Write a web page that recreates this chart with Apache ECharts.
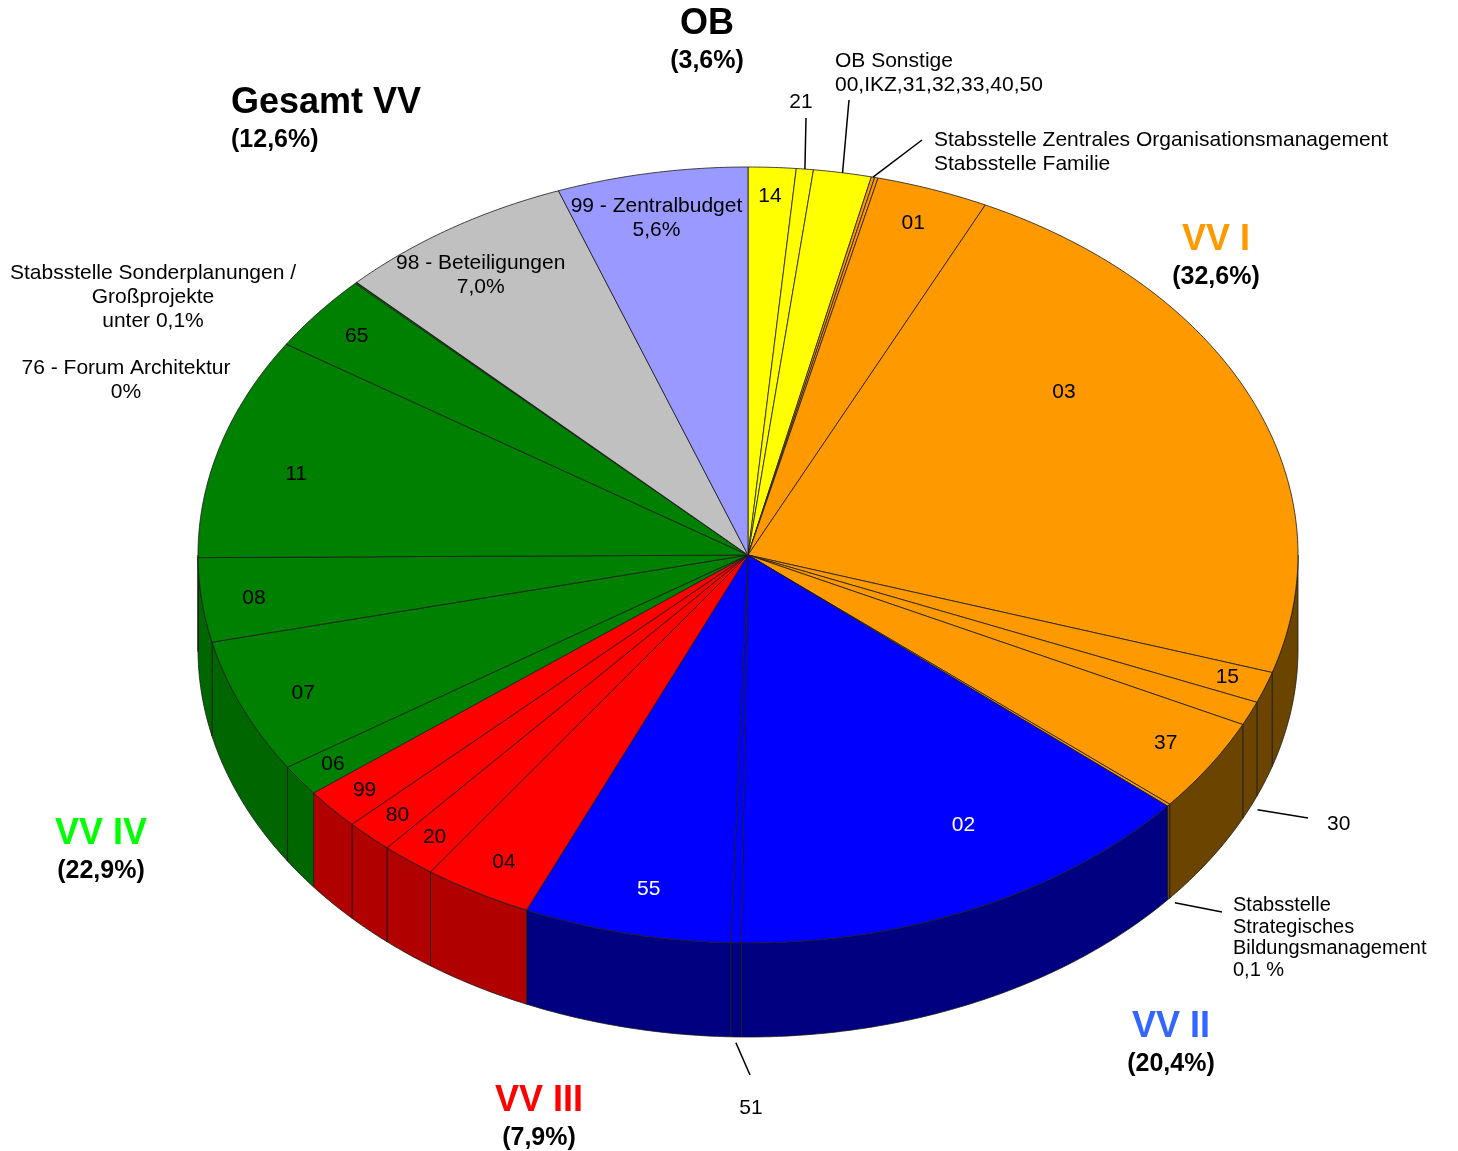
<!DOCTYPE html>
<html>
<head>
<meta charset="utf-8">
<script src="https://cdn.jsdelivr.net/npm/echarts@6/dist/echarts.min.js"></script>
<style>
html,body{margin:0;padding:0;background:#fff}
#main{width:1458px;height:1151px}
</style>
</head>
<body>
<div id="main"></div>
<script>
// Anteile je Bereich in %, im Uhrzeigersinn ab 12 Uhr
var names = ['14', '21', 'OB Sonstige', 'Stabsstelle Zentrales Organisationsmanagement', 'Stabsstelle Familie',
    '01', '03', '15', '30', '37', 'Stabsstelle Strategisches Bildungsmanagement',
    '02', '51', '55',
    '04', '20', '80', '99',
    '06', '07', '08', '11', '65', 'Stabsstelle Sonderplanungen / Großprojekte', '76 - Forum Architektur',
    '98 - Beteiligungen', '99 - Zentralbudget'];
var values = [1.4, 0.5, 1.7, 0.1, 0.1,
    3.3, 22.8, 1.3, 1.0, 3.9, 0.1,
    14.0, 0.3, 6.1,
    3.2, 1.6, 1.4, 1.7,
    1.3, 5.6, 3.5, 9.25, 3.2, 0.05, 0.01,
    7.0, 5.6];
var groups = ['OB', 'OB', 'OB', 'VV I', 'VV I',
    'VV I', 'VV I', 'VV I', 'VV I', 'VV I', 'VV I',
    'VV II', 'VV II', 'VV II',
    'VV III', 'VV III', 'VV III', 'VV III',
    'VV IV', 'VV IV', 'VV IV', 'VV IV', 'VV IV', 'VV IV', 'VV IV',
    'Gesamt VV', 'Gesamt VV'];
// Beschriftung im Segment ('' = außen beschriftet)
var labels = ['14', '', '', '', '',
    '01', '03', '15', '', '37', '',
    '02', '', '55',
    '04', '20', '80', '99',
    '06', '07', '08', '11', '65', '', '',
    '98 - Beteiligungen\n7,0%', '99 - Zentralbudget\n5,6%'];

var groupColors = {'OB': '#FFFF00', 'VV I': '#FF9900', 'VV II': '#0000FF', 'VV III': '#FF0000', 'VV IV': '#008000'};
var sideColors = {'OB': '#8c8c00', 'VV I': '#6B4400', 'VV II': '#000080', 'VV III': '#B00000', 'VV IV': '#006600', 'Gesamt VV': '#707070'};
var specialColors = {'98 - Beteiligungen': '#C0C0C0', '99 - Zentralbudget': '#9999FF'};
var whiteText = {'02': true, '55': true};

var FONT = "'Liberation Sans', Arial, sans-serif";
var CX = 748, CY = 555, RX = 550, RY = 388, DEPTH = 94;

var total = values.reduce(function (s, v) { return s + v; }, 0);
var starts = [], ends = [];
var acc = 0;
for (var i = 0; i < values.length; i++) {
    starts.push(acc / total * 360);
    acc += values[i];
    ends.push(acc / total * 360);
}
function sliceColor(i) {
    return specialColors[names[i]] || groupColors[groups[i]];
}
function pt(t, k, dy) {
    var r = t * Math.PI / 180;
    return [CX + RX * k * Math.sin(r), CY - RY * k * Math.cos(r) + (dy || 0)];
}
function arc(a, b, k, dy) {
    var pts = [];
    var n = Math.max(2, Math.ceil((b - a) / 0.5));
    for (var j = 0; j <= n; j++) pts.push(pt(a + (b - a) * j / n, k, dy));
    return pts;
}
function share(g) {
    var s = 0;
    for (var j = 0; j < values.length; j++) if (groups[j] === g) s += values[j];
    return '(' + s.toFixed(1).replace('.', ',') + '%)';
}

function renderSide(params, api) {
    var i = params.dataIndex;
    var a = Math.max(starts[i], 90), b = Math.min(ends[i], 270);
    if (a >= b) return null;
    var pts = arc(a, b, 1, 0).concat(arc(a, b, 1, DEPTH).reverse());
    return {
        type: 'polygon',
        shape: {points: pts},
        style: {fill: sideColors[groups[i]], stroke: '#1a1a1a', lineWidth: 0.8}
    };
}

function renderTop(params, api) {
    var i = params.dataIndex;
    var a = starts[i], b = ends[i];
    var children = [{
        type: 'polygon',
        shape: {points: [[CX, CY]].concat(arc(a, b, 1, 0))},
        style: {fill: sliceColor(i), stroke: '#1a1a1a', lineWidth: 0.8}
    }];
    if (labels[i]) {
        var span = b - a;
        var k = Math.min(0.93, 0.94 - 0.01 * values[i]);
        var ang = (a + b) / 2 - 0.0019 * span * span;
        var p = pt(ang, k, 0);
        children.push({
            type: 'text', x: p[0], y: p[1], z2: 100,
            style: {
                text: labels[i], fill: whiteText[labels[i]] ? '#fff' : '#000',
                font: '21px ' + FONT, align: 'center', verticalAlign: 'middle', lineHeight: 24
            }
        });
    }
    return {type: 'group', children: children};
}

// Gruppentitel
var titles = [
    {g: 'OB', x: 707, y: 24, color: '#000', align: 'center'},
    {g: 'Gesamt VV', x: 231, y: 103, color: '#000', align: 'left'},
    {g: 'VV I', x: 1216, y: 240, color: '#FF9900', align: 'center'},
    {g: 'VV II', x: 1171, y: 1027, color: '#3366FF', align: 'center'},
    {g: 'VV III', x: 539, y: 1101, color: '#FF0000', align: 'center'},
    {g: 'VV IV', x: 101, y: 834, color: '#00FF00', align: 'center'}
];
// Außenbeschriftungen mit Führungslinie
var callouts = [
    {slice: '21', text: '21', x: 801, y: 102, align: 'center', lineEnd: [806, 118], rim: 'top'},
    {slice: 'OB Sonstige', text: 'OB Sonstige\n00,IKZ,31,32,33,40,50', x: 835, y: 73, align: 'left', lineEnd: [849, 100], rim: 'top'},
    {slice: 'Stabsstelle Zentrales Organisationsmanagement', text: 'Stabsstelle Zentrales Organisationsmanagement\nStabsstelle Familie', x: 934, y: 152, align: 'left', lineEnd: [922, 140], rim: 'top'},
    {slice: '30', text: '30', x: 1327, y: 824, align: 'left', lineEnd: [1308, 818], rim: 'bottom'},
    {slice: 'Stabsstelle Strategisches Bildungsmanagement', text: 'Stabsstelle\nStrategisches\nBildungsmanagement\n0,1 %', x: 1233, y: 938, align: 'left', lineEnd: [1222, 912], rim: 'bottom', size: 20, lh: 21.7},
    {slice: '51', text: '51', x: 751, y: 1108, align: 'center', lineEnd: [750, 1075], rim: 'bottom'},
    {slice: 'Stabsstelle Sonderplanungen / Großprojekte', text: 'Stabsstelle Sonderplanungen /\nGroßprojekte\nunter 0,1%', x: 153, y: 297, align: 'center'},
    {slice: '76 - Forum Architektur', text: '76 - Forum Architektur\n0%', x: 126, y: 380, align: 'center'}
];

var graphics = [];
titles.forEach(function (t) {
    graphics.push({type: 'text', x: t.x, y: t.y, z: 10, style: {text: t.g, fill: t.color, font: 'bold 36px ' + FONT, align: t.align, verticalAlign: 'middle'}});
    graphics.push({type: 'text', x: t.x, y: t.y + 37, z: 10, style: {text: share(t.g), fill: '#000', font: 'bold 25px ' + FONT, align: t.align, verticalAlign: 'middle'}});
});
callouts.forEach(function (c) {
    graphics.push({type: 'text', x: c.x, y: c.y, z: 10, style: {text: c.text, fill: '#000', font: (c.size || 21) + 'px ' + FONT, align: c.align, verticalAlign: 'middle', lineHeight: c.lh || 24}});
    if (c.lineEnd) {
        var i = names.indexOf(c.slice);
        var m = (starts[i] + ends[i]) / 2;
        var p = c.rim === 'top' ? pt(m, 1, 0) : pt(m, 1.015, DEPTH);
        graphics.push({type: 'line', z: 10, shape: {x1: p[0], y1: p[1], x2: c.lineEnd[0], y2: c.lineEnd[1]}, style: {stroke: '#000', lineWidth: 1.5}});
    }
});

var seriesData = values.map(function (v, i) { return {name: names[i], value: v}; });

var chart = echarts.init(document.getElementById('main'));
chart.setOption({
    animation: false,
    backgroundColor: '#fff',
    graphic: graphics,
    series: [
        {type: 'custom', coordinateSystem: 'none', renderItem: renderSide, data: seriesData, z: 1, silent: true},
        {type: 'custom', coordinateSystem: 'none', renderItem: renderTop, data: seriesData, z: 2, silent: true}
    ]
});
</script>
</body>
</html>
